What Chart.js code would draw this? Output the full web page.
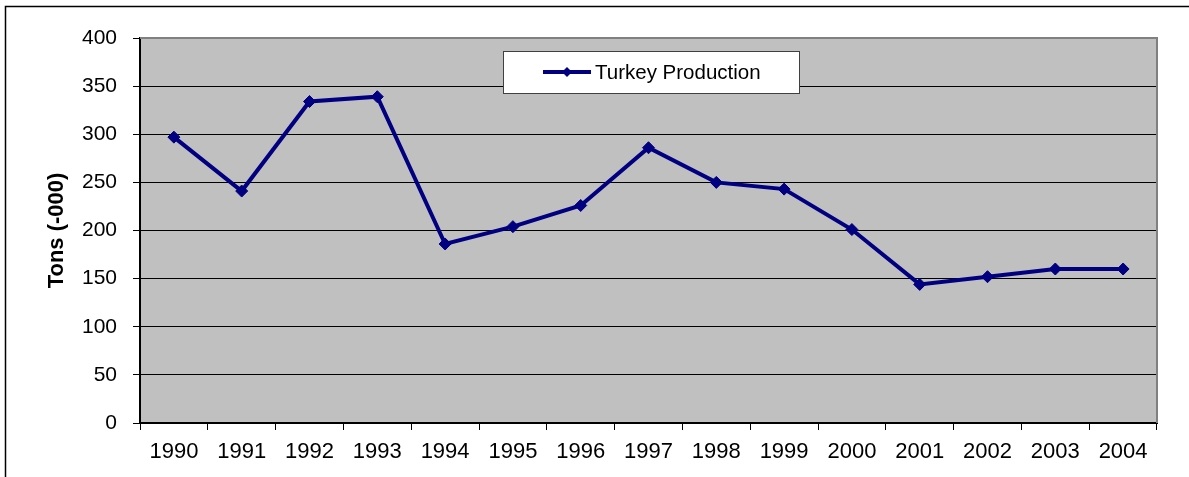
<!DOCTYPE html>
<html>
<head>
<meta charset="utf-8">
<script src="https://cdn.jsdelivr.net/npm/chart.js@4.4.1/dist/chart.umd.min.js"></script>
<style>
  html, body { margin: 0; padding: 0; background: #ffffff; }
  #wrap { position: relative; width: 1189px; height: 477px; }
</style>
</head>
<body>
<div id="wrap"><canvas id="c" width="1189" height="477"></canvas></div>
<script>
const years = ["1990","1991","1992","1993","1994","1995","1996","1997","1998","1999","2000","2001","2002","2003","2004"];
const turkeyProduction = [297, 241, 334, 339, 186, 204, 226, 286, 250, 243, 201, 144, 152, 160, 160];
const seriesLabel = "Turkey Production";
const yTicks = [0, 50, 100, 150, 200, 250, 300, 350, 400];
const yTitle = "Tons (-000)";

const FONT = "'Liberation Sans', Arial, sans-serif";
const NAVY = "#000080";

const framePlugin = {
  id: 'frame',
  beforeDraw(chart) {
    const {ctx, chartArea: a} = chart;
    ctx.save();
    ctx.fillStyle = '#ffffff';
    ctx.fillRect(0, 0, chart.width, chart.height);
    ctx.fillStyle = '#C0C0C0';
    ctx.fillRect(a.left, a.top, a.right - a.left, a.bottom - a.top);
    // outer chart border
    ctx.strokeStyle = '#000000';
    ctx.lineWidth = 1.5;
    ctx.beginPath();
    ctx.moveTo(5.5, chart.height);
    ctx.lineTo(5.5, 6.5);
    ctx.lineTo(chart.width, 6.5);
    ctx.stroke();
    ctx.restore();
  },
  afterDatasetsDraw(chart) {
    const {ctx, chartArea: a} = chart;
    ctx.save();
    // top & right plot border (gray)
    ctx.strokeStyle = '#808080';
    ctx.lineWidth = 2;
    ctx.beginPath();
    ctx.moveTo(a.left, a.top);
    ctx.lineTo(a.right, a.top);
    ctx.lineTo(a.right, a.bottom);
    ctx.stroke();
    // legend box
    const ds = chart.data.datasets[0];
    const bx = 503, by = 51, bw = 296, bh = 42;
    ctx.fillStyle = '#ffffff';
    ctx.fillRect(bx, by, bw, bh);
    ctx.strokeStyle = '#404040';
    ctx.lineWidth = 1;
    ctx.strokeRect(bx + 0.5, by + 0.5, bw, bh);
    const cy = by + bh / 2;
    ctx.strokeStyle = ds.borderColor;
    ctx.lineWidth = 4;
    ctx.beginPath();
    ctx.moveTo(543, cy);
    ctx.lineTo(591, cy);
    ctx.stroke();
    ctx.fillStyle = ds.borderColor;
    ctx.beginPath();
    ctx.moveTo(567, cy - 5);
    ctx.lineTo(572, cy);
    ctx.lineTo(567, cy + 5);
    ctx.lineTo(562, cy);
    ctx.closePath();
    ctx.fill();
    ctx.fillStyle = '#000000';
    ctx.font = "20.5px " + FONT;
    ctx.textBaseline = 'middle';
    ctx.textAlign = 'left';
    ctx.fillText(ds.label, 595, cy + 1);
    ctx.restore();
  }
};

new Chart(document.getElementById('c'), {
  type: 'line',
  data: {
    labels: years,
    datasets: [{
      label: seriesLabel,
      data: turkeyProduction,
      borderColor: NAVY,
      backgroundColor: NAVY,
      borderWidth: 4,
      pointStyle: 'rectRot',
      pointRadius: 6,
      pointBackgroundColor: NAVY,
      pointBorderColor: NAVY,
      pointBorderWidth: 1,
      tension: 0,
      fill: false
    }]
  },
  options: {
    responsive: false,
    animation: false,
    devicePixelRatio: 1,
    layout: { padding: { top: 38, right: 32, left: 0, bottom: 0 } },
    plugins: {
      legend: { display: false },
      tooltip: { enabled: false }
    },
    scales: {
      x: {
        type: 'category',
        offset: true,
        grid: {
          offset: true,
          drawOnChartArea: false,
          drawTicks: true,
          tickLength: 7,
          color: '#000000',
          lineWidth: 1
        },
        border: { display: true, color: '#000000', width: 2 },
        ticks: {
          color: '#000000',
          font: { family: FONT, size: 22 },
          padding: 9,
          maxRotation: 0,
          autoSkip: false
        },
        afterFit(s) { s.height = 54; }
      },
      y: {
        min: 0,
        max: 400,
        afterBuildTicks(s) { s.ticks = yTicks.map(v => ({ value: v })); },
        grid: {
          color: (c) => (c.tick && c.tick.value === 400) ? '#808080' : '#000000',
          lineWidth: 1,
          drawTicks: true,
          tickLength: 7,
          tickColor: '#000000'
        },
        border: { display: true, color: '#000000', width: 2 },
        ticks: {
          color: '#000000',
          font: { family: FONT, size: 21 },
          padding: 16
        },
        title: {
          display: true,
          text: yTitle,
          color: '#000000',
          font: { family: FONT, size: 22, weight: 'bold' },
          padding: { top: 44, bottom: 0 }
        },
        afterFit(s) { s.width = 140; }
      }
    }
  },
  plugins: [framePlugin]
});
</script>
</body>
</html>
